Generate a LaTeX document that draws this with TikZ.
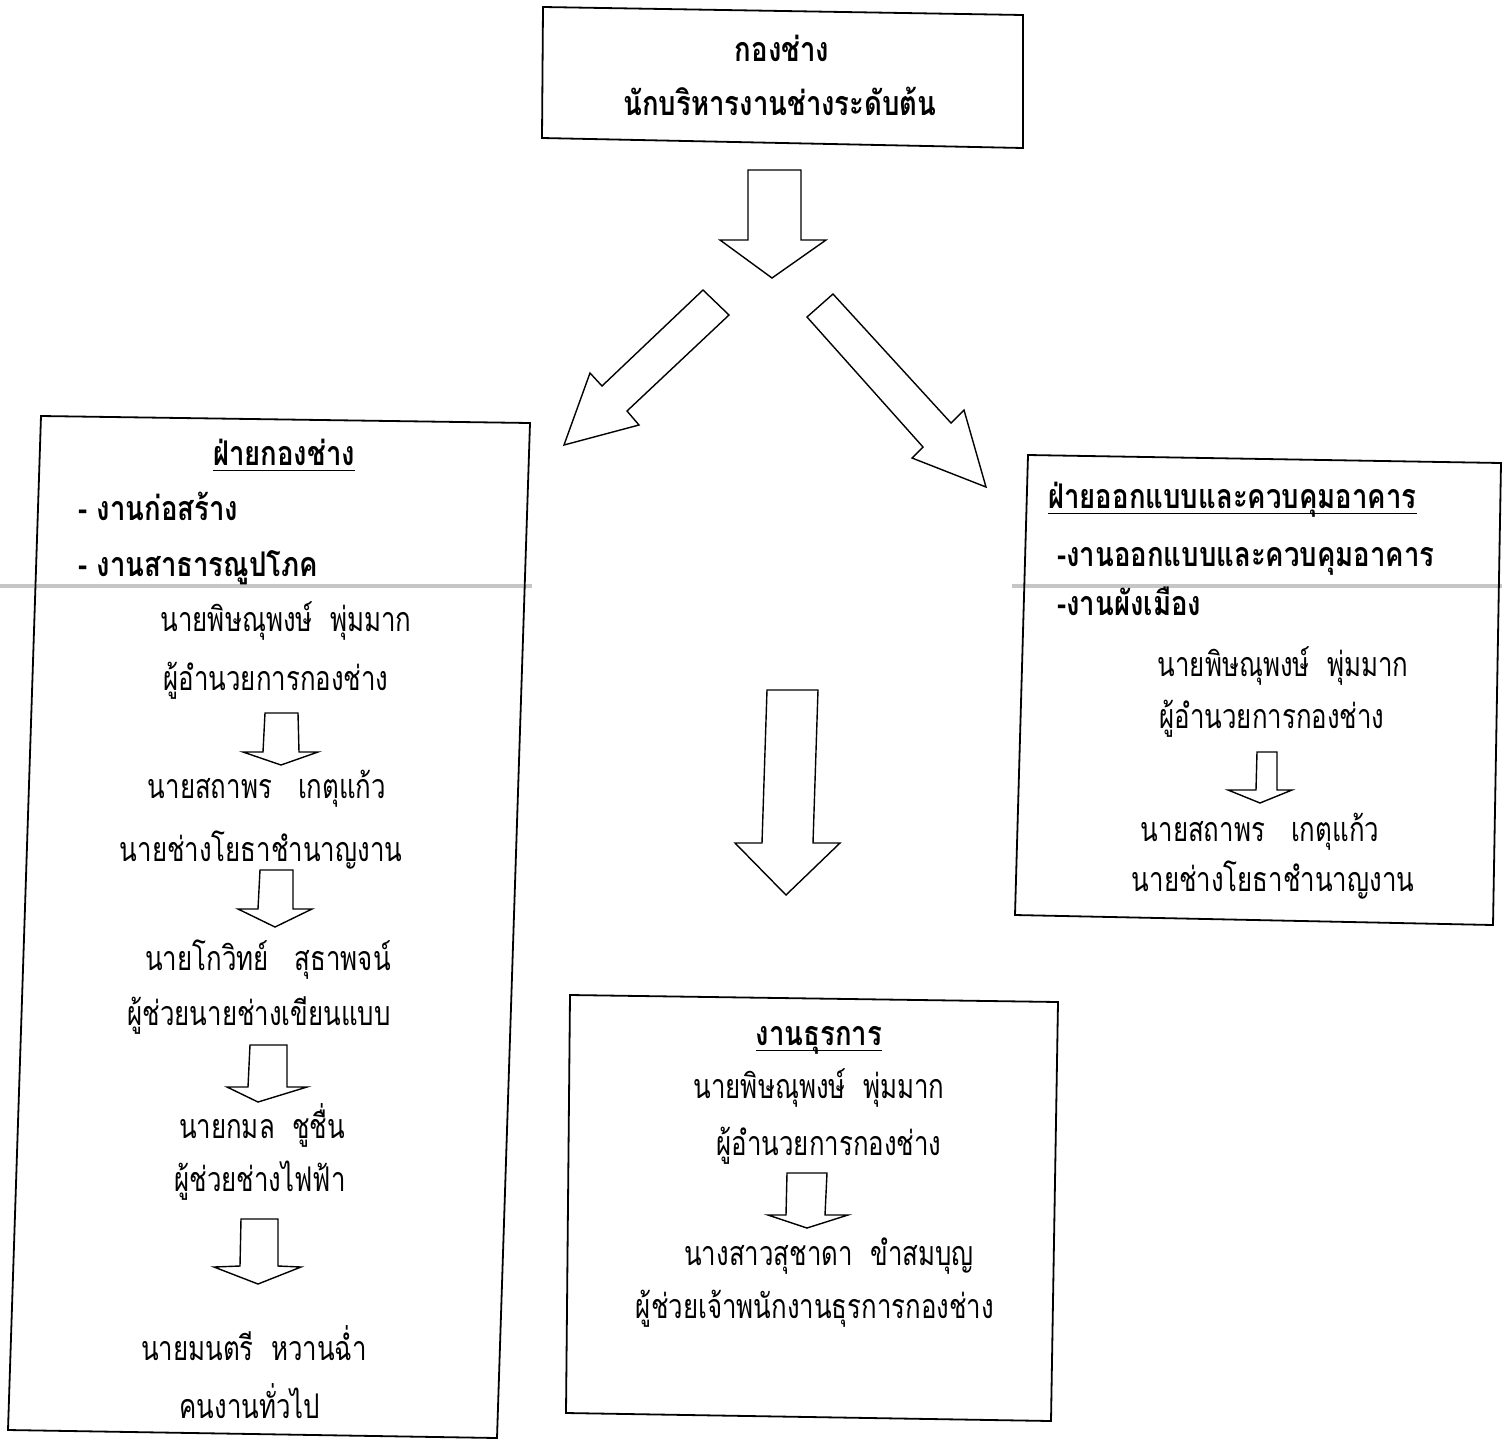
\documentclass[tikz,border=0pt]{standalone}
\usepackage{fontspec}
\newfontfamily\thai[Script=Thai,FakeStretch=0.76,BoldFeatures={FakeStretch=0.81}]{Loma}
\newcommand\tsz{\thai\fontsize{34}{38}\selectfont}
\tikzset{
  frame/.style={draw, line width=1.8pt, line join=miter},
  barrow/.style={draw, line width=1.4pt, fill=white, line join=miter},
  t/.style={font=\tsz, inner sep=0pt, anchor=mid, yshift=-6pt},
  tb/.style={font=\tsz\bfseries, inner sep=0pt, anchor=mid, yshift=-6pt},
  tl/.style={font=\tsz\bfseries, inner sep=0pt, anchor=mid west, yshift=-6pt},
  ul/.style={line width=1.2pt},
}
\begin{document}
\begin{tikzpicture}[x=1pt,y=-1pt]
\useasboundingbox (0,0) rectangle (1502,1441);
\fill[white] (0,0) rectangle (1502,1441);
% scan line
\draw[gray!45, line width=4pt] (0,586) -- (532,586);
\draw[gray!45, line width=4pt] (1012,586) -- (1502,586);
% boxes
\draw[frame] (543,7) -- (1023,15) -- (1023,148) -- (542,138) -- cycle;
\draw[frame] (41,416) -- (530,423) -- (497,1438) -- (8,1430) -- cycle;
\draw[frame] (1028,455) -- (1501,463) -- (1493,925) -- (1015,915) -- cycle;
\draw[frame] (570,995) -- (1058,1002) -- (1051,1421) -- (566,1413) -- cycle;
% big arrows
\draw[barrow] (748,170) -- (801,170) -- (801,240) -- (826,240) -- (772,278) -- (720,240) -- (748,240) -- cycle;
\draw[barrow] (703,290) -- (729,315) -- (627,411) -- (639,425) -- (564,445) -- (590,373) -- (602,386) -- cycle;
\draw[barrow] (833,294) -- (951,423) -- (964,410) -- (986,487) -- (912,458) -- (923,447) -- (807,317) -- cycle;
\draw[barrow] (767,690) -- (818,690) -- (813,843) -- (840,843) -- (786,895) -- (735,843) -- (762,843) -- cycle;
% small arrows left box
\draw[barrow] (265,713) -- (298,713) -- (299,752) -- (318,752) -- (281,765) -- (243,752) -- (263,752) -- cycle;
\draw[barrow] (260,870) -- (293,870) -- (293,909) -- (312,909) -- (275,927) -- (238,909) -- (258,909) -- cycle;
\draw[barrow] (250,1045) -- (287,1045) -- (287,1087) -- (307,1087) -- (258,1102) -- (227,1087) -- (248,1087) -- cycle;
\draw[barrow] (241,1219) -- (278,1219) -- (278,1266) -- (301,1267) -- (258,1284) -- (214,1267) -- (240,1266) -- cycle;
% small arrow right box
\draw[barrow] (1257,752) -- (1277,752) -- (1277,790) -- (1292,790) -- (1260,803) -- (1228,790) -- (1256,790) -- cycle;
% small arrow bottom box
\draw[barrow] (787,1173) -- (827,1173) -- (825,1215) -- (848,1215) -- (807,1228) -- (768,1215) -- (786,1215) -- cycle;

% top box text
\node[tb] (top1) at (782,53) {กองช่าง};
\node[tb] (top2) at (780,107) {นักบริหารงานช่างระดับต้น};

% left box
\node[tb] (lh) at (284,457) {ฝ่ายกองช่าง};
\draw[ul] ([yshift=-5pt]lh.base west) -- ([yshift=-5pt]lh.base east);
\node[tl] (l1) at (78,512) {-~งานก่อสร้าง};
\node[tl] (l2) at (78,568) {-~งานสาธารณูปโภค};
\node[t] (l3) at (286,623) {นายพิษณุพงษ์~~พุ่มมาก};
\node[t] (l4) at (276,682) {ผู้อำนวยการกองช่าง};
\node[t] (l5) at (267,790) {นายสถาพร~~~เกตุแก้ว};
\node[t] (l6) at (261,853) {นายช่างโยธาชำนาญงาน};
\node[t] (l7) at (268,962) {นายโกวิทย์~~~สุธาพจน์};
\node[t] (l8) at (259,1017) {ผู้ช่วยนายช่างเขียนแบบ};
\node[t] (l9) at (262,1130) {นายกมล~~ชูชื่น};
\node[t] (l10) at (260,1183) {ผู้ช่วยช่างไฟฟ้า};
\node[t] (l11) at (254,1352) {นายมนตรี~~หวานฉ่ำ};
\node[t] (l12) at (250,1410) {คนงานทั่วไป};

% right box
\node[tl] (rh) at (1048,500) {ฝ่ายออกแบบและควบคุมอาคาร};
\draw[ul] ([yshift=-5pt]rh.base west) -- ([yshift=-5pt]rh.base east);
\node[tl] (r1) at (1057,558) {-งานออกแบบและควบคุมอาคาร};
\node[tl] (r2) at (1057,607) {-งานผังเมือง};
\node[t] (r3) at (1283,668) {นายพิษณุพงษ์~~พุ่มมาก};
\node[t] (r4) at (1272,720) {ผู้อำนวยการกองช่าง};
\node[t] (r5) at (1260,833) {นายสถาพร~~~เกตุแก้ว};
\node[t] (r6) at (1273,883) {นายช่างโยธาชำนาญงาน};

% bottom box
\node[tb] (bh) at (819,1037) {งานธุรการ};
\draw[ul] ([yshift=-5pt]bh.base west) -- ([yshift=-5pt]bh.base east);
\node[t] (b1) at (819,1090) {นายพิษณุพงษ์~~พุ่มมาก};
\node[t] (b2) at (829,1147) {ผู้อำนวยการกองช่าง};
\node[t] (b3) at (829,1257) {นางสาวสุชาดา~~ขำสมบุญ};
\node[t] (b4) at (815,1310) {ผู้ช่วยเจ้าพนักงานธุรการกองช่าง};
\end{tikzpicture}
\end{document}
